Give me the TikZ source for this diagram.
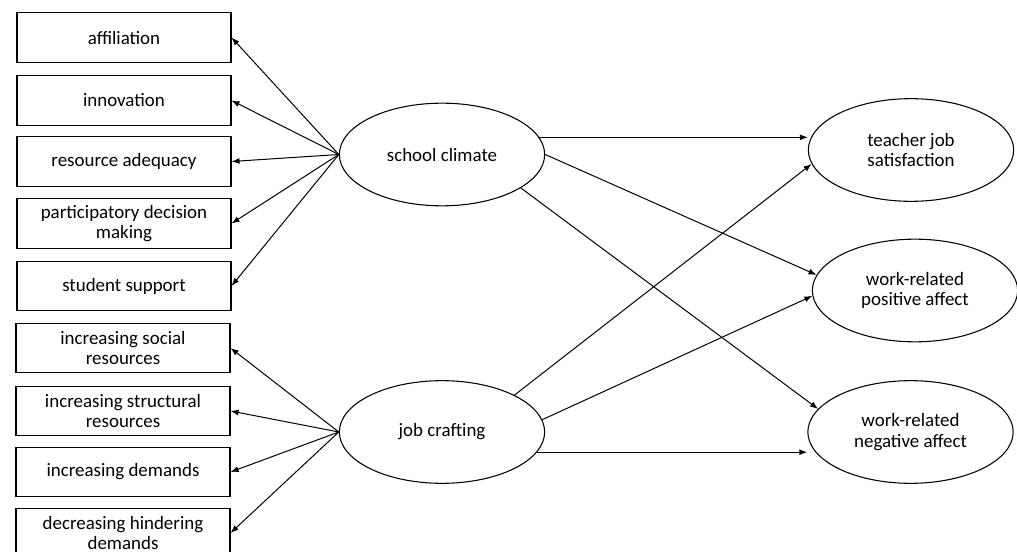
\documentclass[tikz,border=0pt]{standalone}
\usepackage{fontspec}
\setmainfont{Carlito}
\usetikzlibrary{arrows.meta,shapes.geometric}
\tikzset{
  path/.style={line width=0.75pt, -{Latex[length=6pt,width=4.5pt]}},
  item/.style={draw, line width=0.8pt, minimum width=160.5pt, minimum height=37pt, inner sep=1pt, align=center, font=\fontsize{14.2}{15.5}\selectfont},
  latent/.style={draw, ellipse, line width=0.8pt, minimum width=154pt, minimum height=77pt, inner sep=0pt, align=center, font=\fontsize{14.2}{15.5}\selectfont}
}
\begin{document}
\begin{tikzpicture}[x=0.75pt,y=-0.75pt]
  \useasboundingbox (0,0) rectangle (1017,552);
  % indicators
  \foreach \n/\y/\t in {a1/37.5/affiliation, a2/100.5/innovation, a3/161.5/resource adequacy,
      a4/223.5/{participatory decision\\making}, a5/286/student support}
    \node[item] (\n) at (124,\y) {\t};
  \foreach \n/\y/\t in {c1/348/{increasing social\\resources}, c2/411/{increasing structural\\resources},
      c3/472/increasing demands, c4/533/{decreasing hindering\\demands}}
    \node[item] (\n) at (123,\y) {\t};
  % latent variables
  \node[latent] (sc) at (442,154.5) {school climate};
  \node[latent] (jc) at (442,432) {job crafting};
  \node[latent] (tjs) at (911,150) {teacher job\\satisfaction};
  \node[latent] (wpa) at (915,290.5) {work-related\\positive affect};
  \node[latent] (wna) at (910.5,432) {work-related\\negative affect};
  % loadings
  \foreach \n in {a1,a2,a3,a4,a5}
    \draw[path] (sc.west) -- (\n.east);
  \foreach \n in {c1,c2,c3,c4}
    \draw[path] (jc.west) -- (\n.east);
  % structural paths
  \draw[path] (sc.10) -- (sc.10 -| tjs.west);
  \draw[path] (sc.east) -- (wpa.171);
  \draw[path] (sc.-23) -- (wna.166);
  \draw[path] (jc.27) -- (tjs.188);
  \draw[path] (jc.7) -- (wpa.183);
  \draw[path] (jc.-12) -- (jc.-12 -| wna.west);
\end{tikzpicture}
\end{document}
